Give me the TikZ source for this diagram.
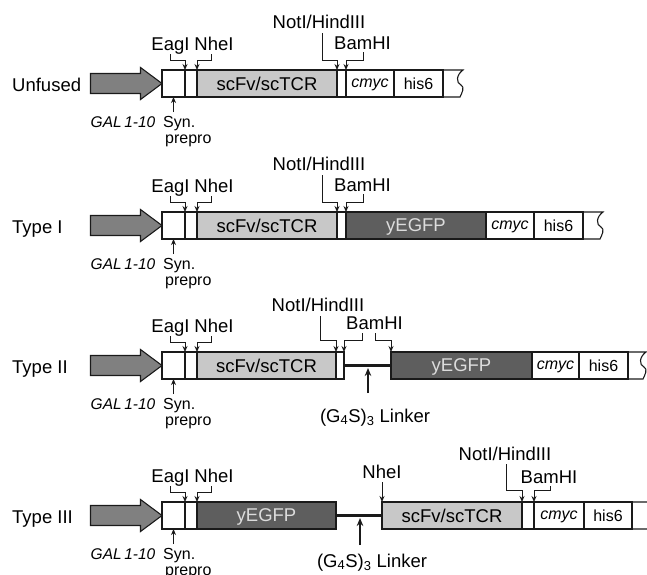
\documentclass[tikz,border=0pt]{standalone}
\usepackage{fontspec}
\setmainfont{Liberation Sans}
\usetikzlibrary{arrows.meta}
\definecolor{promo}{HTML}{808080}
\definecolor{scfv}{HTML}{C8C8C8}
\definecolor{gfp}{HTML}{5E5E5E}
\definecolor{gfptext}{HTML}{DCDCDC}
\definecolor{ink}{HTML}{1A1A1A}
\newcommand{\bigfont}{\fontsize{18.5}{20}\selectfont}
\newcommand{\smallfont}{\fontsize{16}{17}\selectfont}
\tikzset{
  boxline/.style={draw=ink, line width=1.1pt},
  seg/.style={boxline, rectangle, minimum height=27pt, inner sep=0pt, outer sep=0pt, text depth=0pt, font=\bigfont},
  sseg/.style={seg, font=\smallfont},
  gfpseg/.style={seg, fill=gfp, text=gfptext},
  scfvseg/.style={seg, fill=scfv},
  lbl/.style={inner sep=0pt, anchor=base, font=\bigfont},
  rowlbl/.style={inner sep=0pt, anchor=base west, font=\bigfont},
  slbl/.style={inner sep=0pt, anchor=base west, font=\smallfont},
  galtext/.style={inner sep=0pt, anchor=base, font=\fontsize{15.5}{17}\selectfont\itshape},
  lead/.style={draw=ink, line width=1pt},
  leadarr/.style={lead, -{Stealth[length=6pt,width=5pt]}},
  linkarr/.style={draw=ink, line width=1.4pt, -{Stealth[length=8pt,width=6.5pt]}},
  linker/.style={draw=ink, line width=3pt},
}
\newcommand{\leftpart}[2]{%
  \node[rowlbl] (#1name) at (12,91) {#2};
  \draw[boxline, fill=promo] (90.5,73.5) -- (140.5,73.5) -- (140.5,67.5) -- (162,83.5) -- (140.5,99.5) -- (140.5,93.5) -- (90.5,93.5) -- cycle;
  \node[seg, minimum width=23pt] (#1pre) at (173.5,83.5) {};
  \node[seg, minimum width=12pt] (#1sig) at (191,83.5) {};
  \node[galtext] (#1gal) at (123,127) {GAL\,1-10};
  \node[slbl] (#1syn) at (163,127) {Syn.};
  \node[slbl] (#1pp) at (165,143) {prepro};
  \draw[leadarr] ([yshift=-15pt]#1pre.south) -- (#1pre.south);
  \node[lbl] (#1eag) at (170.5,50) {EagI};
  \node[lbl] (#1nhe) at (214,50) {NheI};
  \draw[leadarr] ([yshift=-4pt]#1eag.base) -- ++(0,6) -| (#1sig.north west);
  \draw[leadarr] ([xshift=-3pt,yshift=-4pt]#1nhe.base) -- ++(0,6) -| (#1sig.north east);
}
\newcommand{\brk}[2]{%
  \draw[boxline] (#1,70) -- (#2,70) .. controls (#2-7,75) and (#2-7,83) .. (#2-2,85)
    .. controls (#2+2,87) and (#2-1,93) .. (#2-3,97) -- (#1,97);
}
\begin{document}
\begin{tikzpicture}[x=1pt,y=-1pt]
\useasboundingbox (0,0) rectangle (647,574);

% ---------------- Row 1: Unfused
\leftpart{a}{Unfused}
\node[scfvseg, minimum width=140pt] (ascfv) at (267,83.5) {scFv/scTCR};
\node[seg, minimum width=9pt] (as2) at (341.5,83.5) {};
\node[sseg, minimum width=48pt, font=\smallfont\itshape] (acmyc) at (370,83.5) {cmyc};
\node[sseg, minimum width=49pt] (ahis) at (418.5,83.5) {his6};
\brk{443}{463}
\node[lbl] (anot) at (319,28) {NotI/HindIII};
\node[lbl] (abam) at (362.5,49) {BamHI};
\draw[leadarr] ([xshift=3pt,yshift=-5pt]anot.base) -- ++(0,27) -| (ascfv.north east);
\draw[leadarr] ([xshift=0.5pt,yshift=-3pt]abam.base) -- ++(0,8) -| (as2.north east);

% ---------------- Row 2: Type I
\begin{scope}[shift={(0,142)}]
\leftpart{b}{Type I}
\node[scfvseg, minimum width=140pt] (bscfv) at (267,83.5) {scFv/scTCR};
\node[seg, minimum width=9pt] (bs2) at (341.5,83.5) {};
\node[gfpseg, minimum width=140pt] (bgfp) at (416,83.5) {yEGFP};
\node[sseg, minimum width=48pt, font=\smallfont\itshape] (bcmyc) at (510,83.5) {cmyc};
\node[sseg, minimum width=49pt] (bhis) at (558.5,83.5) {his6};
\brk{583}{603}
\node[lbl] (bnot) at (319,28) {NotI/HindIII};
\node[lbl] (bbam) at (362.5,49) {BamHI};
\draw[leadarr] ([xshift=3pt,yshift=-5pt]bnot.base) -- ++(0,27) -| (bscfv.north east);
\draw[leadarr] ([xshift=0.5pt,yshift=-3pt]bbam.base) -- ++(0,8) -| (bs2.north east);
\end{scope}

% ---------------- Row 3: Type II
\begin{scope}[shift={(0,282)}]
\leftpart{c}{Type II}
\node[scfvseg, minimum width=139pt] (cscfv) at (266.5,83.5) {scFv/scTCR};
\node[seg, minimum width=8pt] (cs2) at (340,83.5) {};
\node[gfpseg, minimum width=141pt] (cgfp) at (461.5,83.5) {yEGFP};
\node[sseg, minimum width=47pt, font=\smallfont\itshape] (ccmyc) at (555.5,83.5) {cmyc};
\node[sseg, minimum width=49pt] (chis) at (603.5,83.5) {his6};
\brk{628}{646}
\draw[linker] (cs2.east) -- (cgfp.west);
\node[lbl] (cnot) at (318,29) {NotI/HindIII};
\node[lbl] (cbam) at (374.5,47) {BamHI};
\draw[leadarr] ([xshift=2pt,yshift=-5pt]cnot.base) -- ++(0,24) -| (cscfv.north east);
\draw[leadarr] ([xshift=-12.5pt,yshift=-4pt]cbam.base) -- ++(0,7) -| (cs2.north east);
\draw[leadarr] ([xshift=0.5pt,yshift=-4pt]cbam.base) -- ++(0,7) -| (cgfp.north west);
\node[lbl] (clk) at (375,140) {(G\textsubscript{4}S)\textsubscript{3} Linker};
\coordinate (cla) at (368,111);
\coordinate (clb) at (368,86);
\draw[linkarr] (cla) -- (clb);
\end{scope}

% ---------------- Row 4: Type III
\begin{scope}[shift={(0,432)}]
\leftpart{d}{Type III}
\node[gfpseg, minimum width=139pt] (dgfp) at (266.5,83.5) {yEGFP};
\node[scfvseg, minimum width=140pt] (dscfv) at (452,83.5) {scFv/scTCR};
\node[seg, minimum width=12pt] (ds2) at (528,83.5) {};
\node[sseg, minimum width=50pt, font=\smallfont\itshape] (dcmyc) at (559,83.5) {cmyc};
\node[sseg, minimum width=48pt] (dhis) at (608,83.5) {his6};
\brk{632}{662}
\draw[linker] (dgfp.east) -- (dscfv.west);
\node[lbl] (dnhe2) at (382,46) {NheI};
\draw[leadarr] ([yshift=-4pt]dnhe2.base) -- (dscfv.north west);
\node[lbl] (dnot) at (505,28) {NotI/HindIII};
\node[lbl] (dbam) at (549,51) {BamHI};
\draw[leadarr] ([xshift=1pt,yshift=-4pt]dnot.base) -- ++(0,26) -| (dscfv.north east);
\draw[leadarr] ([xshift=1pt,yshift=-3pt]dbam.base) -- ++(0,4) -| (ds2.north east);
\node[lbl] (dlk) at (372,135) {(G\textsubscript{4}S)\textsubscript{3} Linker};
\coordinate (dla) at (360,113);
\coordinate (dlb) at (360,86);
\draw[linkarr] (dla) -- (dlb);
\end{scope}
\end{tikzpicture}
\end{document}
